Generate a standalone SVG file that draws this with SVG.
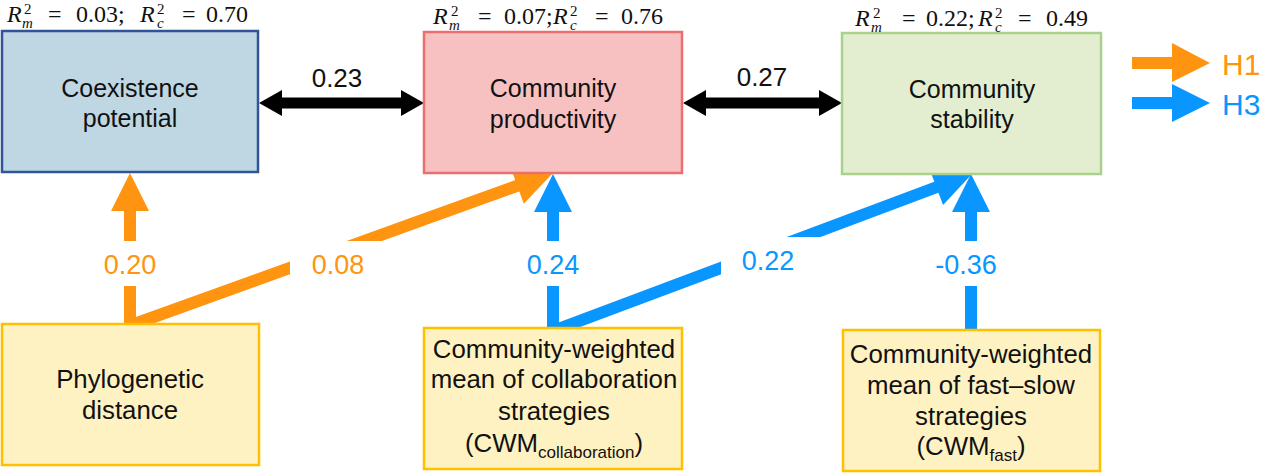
<svg xmlns="http://www.w3.org/2000/svg" width="1269" height="473" viewBox="0 0 1269 473">
<style>
.node{font-family:"Liberation Sans",Arial,sans-serif;font-size:25px;fill:#111;text-anchor:middle}
.nodeb{font-family:"Liberation Sans",Arial,sans-serif;font-size:25.8px;fill:#111;text-anchor:middle}
.r2{font-family:"Liberation Serif","Times New Roman",serif;font-size:24px;fill:#111}
.s{font-size:15px}
.it{font-style:italic}
.lblk{font-family:"Liberation Sans",Arial,sans-serif;font-size:26px;fill:#111;text-anchor:middle}
.lo{font-family:"Liberation Sans",Arial,sans-serif;font-size:27px;fill:#FF9410;text-anchor:middle}
.lb{font-family:"Liberation Sans",Arial,sans-serif;font-size:27px;fill:#0A96FF;text-anchor:middle}
.so{stroke:#FF9410;stroke-width:12;fill:none}
.sb{stroke:#0A96FF;stroke-width:12;fill:none}
.fo{fill:#FF9410}
.fb{fill:#0A96FF}
.box{stroke-width:2.5}
</style>
<defs>
<mask id="gapO" maskUnits="userSpaceOnUse" x="0" y="0" width="1269" height="473">
<rect x="0" y="0" width="1269" height="473" fill="#fff"/>
<rect x="290" y="241" width="105" height="50" fill="#000"/>
</mask>
<mask id="gapB" maskUnits="userSpaceOnUse" x="0" y="0" width="1269" height="473">
<rect x="0" y="0" width="1269" height="473" fill="#fff"/>
<rect x="721" y="237" width="107" height="50" fill="#000"/>
</mask>
</defs>
<rect width="1269" height="473" fill="#fff"/>

<g id="connectors">
<polygon fill="#000" points="259,103 282,90 282,97.5 401,97.5 401,90 424,103 401,116 401,108.5 282,108.5 282,116"/>
<polygon fill="#000" points="683,103 706,90 706,97.5 819,97.5 819,90 842,103 819,116 819,108.5 706,108.5 706,116"/>
<line class="so" x1="130" y1="211" x2="130" y2="241"/>
<line class="so" x1="130" y1="286" x2="130" y2="326"/>
<polygon class="fo" points="130,173 111,211 149,211"/>
<line class="so" x1="126" y1="327" x2="518" y2="185.5" mask="url(#gapO)"/>
<polygon class="fo" points="553,173 510.8,168 523.8,203.8"/>
<line class="sb" x1="553" y1="211" x2="553" y2="241"/>
<line class="sb" x1="553" y1="286" x2="553" y2="331"/>
<polygon class="fb" points="553,174 534,212 572,212"/>
<line class="sb" x1="550" y1="332" x2="937" y2="187" mask="url(#gapB)"/>
<polygon class="fb" points="972,174 929.7,169.5 943.1,205.1"/>
<line class="sb" x1="971" y1="212" x2="971" y2="241"/>
<line class="sb" x1="971" y1="286" x2="971" y2="330"/>
<polygon class="fb" points="971,174 952,212 990,212"/>
<text class="lblk" x="337" y="87">0.23</text>
<text class="lblk" x="762" y="86">0.27</text>
<text class="lo" x="130" y="274">0.20</text>
<text class="lo" x="338" y="274">0.08</text>
<text class="lb" x="553" y="274">0.24</text>
<text class="lb" x="768" y="270">0.22</text>
<text class="lb" x="966" y="274">-0.36</text>
</g>

<g id="legend">
<polygon class="fo" points="1132,57 1172,57 1172,43 1210,63 1172,82 1172,69 1132,69"/>
<polygon class="fb" points="1132,97 1172,97 1172,84 1210,103 1172,122 1172,109 1132,109"/>
<text x="1222" y="75" style="font-family:'Liberation Sans',Arial,sans-serif;font-size:30px;fill:#FF9410">H1</text>
<text x="1222" y="115" style="font-family:'Liberation Sans',Arial,sans-serif;font-size:30px;fill:#0A96FF">H3</text>
</g>

<g id="node-coexistence">
<rect class="box" x="2" y="31" width="256" height="141" fill="#BFD6E3" stroke="#2F5597"/>
<text class="node" x="130" y="97">Coexistence</text>
<text class="node" x="130" y="127">potential</text>
<text class="r2"><tspan class="it" x="7" y="22">R</tspan><tspan class="s" x="24" y="14">2</tspan><tspan class="s it" x="22" y="28">m</tspan><tspan x="48" y="22">=</tspan><tspan x="76" y="22">0.03;</tspan><tspan class="it" x="140" y="22">R</tspan><tspan class="s" x="157" y="14">2</tspan><tspan class="s it" x="157" y="28">c</tspan><tspan x="182" y="22">=</tspan><tspan x="206" y="22">0.70</tspan></text>
</g>

<g id="node-productivity">
<rect class="box" x="424" y="32" width="258" height="141" fill="#F8C1C1" stroke="#E9706E"/>
<text class="node" x="553" y="97">Community</text>
<text class="node" x="553" y="128">productivity</text>
<text class="r2"><tspan class="it" x="433" y="24">R</tspan><tspan class="s" x="451" y="16">2</tspan><tspan class="s it" x="449" y="30">m</tspan><tspan x="478" y="24">=</tspan><tspan x="504" y="24">0.07;</tspan><tspan class="it" x="553" y="24">R</tspan><tspan class="s" x="570" y="16">2</tspan><tspan class="s it" x="570" y="30">c</tspan><tspan x="595" y="24">=</tspan><tspan x="621" y="24">0.76</tspan></text>
</g>

<g id="node-stability">
<rect class="box" x="842" y="33" width="259" height="141" fill="#E2EECF" stroke="#A9D18E"/>
<text class="node" x="972" y="98">Community</text>
<text class="node" x="972" y="128">stability</text>
<text class="r2"><tspan class="it" x="855" y="26">R</tspan><tspan class="s" x="873" y="18">2</tspan><tspan class="s it" x="871" y="32">m</tspan><tspan x="902" y="26">=</tspan><tspan x="926" y="26">0.22;</tspan><tspan class="it" x="978" y="26">R</tspan><tspan class="s" x="995" y="18">2</tspan><tspan class="s it" x="995" y="32">c</tspan><tspan x="1018" y="26">=</tspan><tspan x="1046" y="26">0.49</tspan></text>
</g>

<g id="node-phylogenetic">
<rect class="box" x="2" y="324" width="257" height="141" fill="#FFF2C2" stroke="#FFC000"/>
<text class="nodeb" x="130" y="388">Phylogenetic</text>
<text class="nodeb" x="130" y="419">distance</text>
</g>

<g id="node-cwm-collaboration">
<rect class="box" x="424" y="328" width="258" height="141" fill="#FFF2C2" stroke="#FFC000"/>
<text class="nodeb" x="554" y="358">Community-weighted</text>
<text class="nodeb" x="554" y="388">mean of collaboration</text>
<text class="nodeb" x="554" y="420">strategies</text>
<text class="nodeb" x="554" y="452">(CWM<tspan font-size="17" dy="6">collaboration</tspan><tspan dy="-6">)</tspan></text>
</g>

<g id="node-cwm-fast">
<rect class="box" x="843" y="330" width="257" height="141" fill="#FFF2C2" stroke="#FFC000"/>
<text class="nodeb" x="971" y="363">Community-weighted</text>
<text class="nodeb" x="971" y="394">mean of fast–slow</text>
<text class="nodeb" x="971" y="425">strategies</text>
<text class="nodeb" x="971" y="455">(CWM<tspan font-size="17" dy="6">fast</tspan><tspan dy="-6">)</tspan></text>
</g>
</svg>
